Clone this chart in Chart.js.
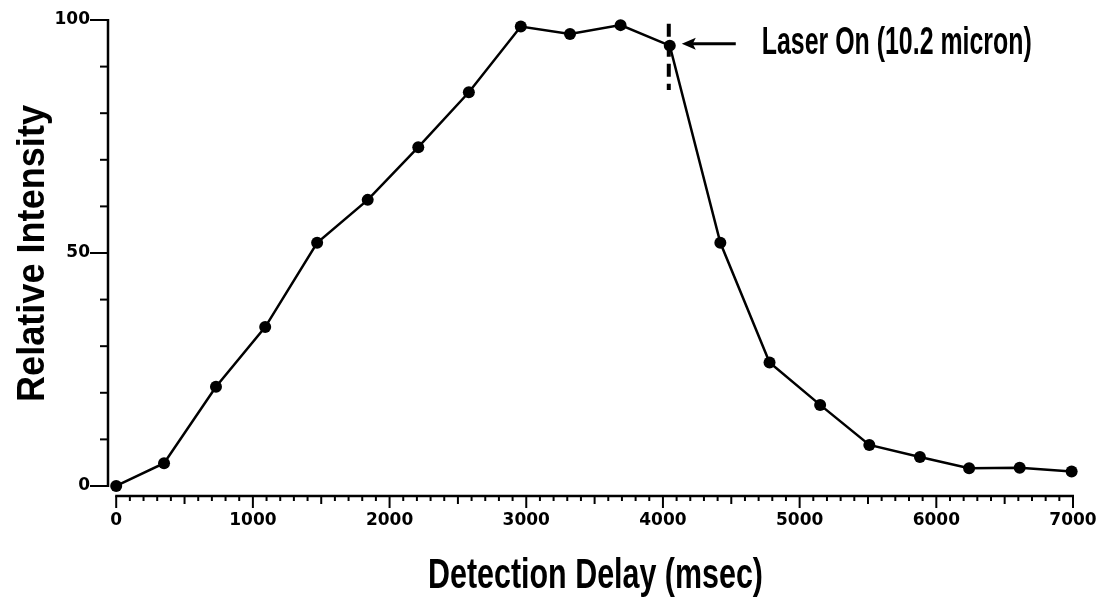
<!DOCTYPE html>
<html>
<head>
<meta charset="utf-8">
<script src="https://cdn.jsdelivr.net/npm/chart.js@4/dist/chart.umd.min.js"></script>
<style>
  html, body { margin: 0; padding: 0; background: #fff; }
  #plot { display: block; }
</style>
</head>
<body>
<canvas id="plot" width="1102" height="601"></canvas>
<script>
// delay (msec) and relative intensity for each measurement
const delays = [0, 350, 730, 1090, 1470, 1840, 2210, 2580, 2960, 3320,
                3690, 4050, 4420, 4780, 5150, 5510, 5880, 6240, 6610, 6990]
const intensity = [0, 4.9, 21.3, 34.1, 52.2, 61.4, 72.7, 84.5, 98.6, 97.0,
                   98.9, 94.5, 52.2, 26.5, 17.4, 8.8, 6.2, 3.8, 3.9, 3.1]

const xTicks = [0, 1000, 2000, 3000, 4000, 5000, 6000, 7000]
const yTicks = [0, 50, 100]

// index of the point where the laser is switched on
const laserIdx = 11
const laserText = 'Laser On (10.2 micron)'
const xTitle = 'Detection Delay (msec)'
const yTitle = 'Relative Intensity'

const points = delays.map((d, i) => ({ x: d, y: intensity[i] }))

// draw text squeezed/stretched to a given width
const fitText = (ctx, text, x, y, width, font) => {
    ctx.save()
    ctx.font = font
    const w = ctx.measureText(text).width
    ctx.translate(x, y)
    ctx.scale(width / w, 1)
    ctx.fillText(text, 0, 0)
    ctx.restore()
}

const axesPlugin = {
    id: 'axesPlugin',
    afterDraw(chart) {
        const ctx = chart.ctx
        const xs = chart.scales.x
        const ys = chart.scales.y
        const left = chart.chartArea.left
        const bottom = chart.chartArea.bottom

        ctx.save()
        ctx.strokeStyle = '#000'
        ctx.fillStyle = '#000'
        ctx.lineCap = 'butt'

        // y axis line and ticks
        ctx.lineWidth = 2.5
        ctx.beginPath()
        ctx.moveTo(left, ys.getPixelForValue(100) - 1)
        ctx.lineTo(left, ys.getPixelForValue(0) + 1)
        ctx.stroke()
        ctx.lineWidth = 2
        for (let v = 0; v <= 100; v += 10) {
            const len = v % 50 === 0 ? 18 : 8
            const y = ys.getPixelForValue(v)
            ctx.beginPath()
            ctx.moveTo(left, y)
            ctx.lineTo(left - len, y)
            ctx.stroke()
        }

        // x axis line and ticks
        ctx.lineWidth = 2.5
        ctx.beginPath()
        ctx.moveTo(xs.getPixelForValue(0) - 1, bottom)
        ctx.lineTo(xs.getPixelForValue(7000) + 1, bottom)
        ctx.stroke()
        ctx.lineWidth = 2
        for (let v = 0; v <= 7000; v += 100) {
            let len = 5
            if (v % 1000 === 0) len = 12
            else if (v % 500 === 0) len = 8
            const x = xs.getPixelForValue(v)
            ctx.beginPath()
            ctx.moveTo(x, bottom)
            ctx.lineTo(x, bottom + len)
            ctx.stroke()
        }

        // laser marker: dashed vertical line through the point + arrow + label
        const lx = xs.getPixelForValue(delays[laserIdx])
        const ly = ys.getPixelForValue(intensity[laserIdx])
        ctx.lineWidth = 4
        ctx.setLineDash([13, 7])
        ctx.beginPath()
        ctx.moveTo(lx - 1, ys.getPixelForValue(99.2))
        ctx.lineTo(lx - 1, ys.getPixelForValue(85))
        ctx.stroke()
        ctx.setLineDash([])

        const ay = ly - 2
        ctx.lineWidth = 3
        ctx.beginPath()
        ctx.moveTo(lx + 22, ay)
        ctx.lineTo(lx + 66, ay)
        ctx.stroke()
        ctx.beginPath()
        ctx.moveTo(lx + 12, ay)
        ctx.lineTo(lx + 26, ay - 6)
        ctx.lineTo(lx + 23, ay)
        ctx.lineTo(lx + 26, ay + 6)
        ctx.closePath()
        ctx.fill()

        ctx.textBaseline = 'alphabetic'
        ctx.textAlign = 'left'
        fitText(ctx, laserText, lx + 92, ay + 10, 270, 'bold 38px "Liberation Sans Narrow", "Liberation Sans", sans-serif')

        // axis titles
        fitText(ctx, xTitle, 428, 588, 335, 'bold 42px "Liberation Sans Narrow", "Liberation Sans", sans-serif')

        ctx.save()
        ctx.translate(44, 402)
        ctx.rotate(-Math.PI / 2)
        fitText(ctx, yTitle, 0, 0, 297, 'bold 38px "Liberation Sans", Arial, sans-serif')
        ctx.restore()

        ctx.restore()
    }
}

const chart = new Chart(document.querySelector('#plot'), {
    type: 'line',
    data: {
        datasets: [{
            data: points,
            borderColor: '#000',
            borderWidth: 2.5,
            backgroundColor: '#000',
            pointBackgroundColor: '#000',
            pointBorderWidth: 0,
            pointRadius: 6,
            tension: 0,
            clip: false
        }]
    },
    options: {
        responsive: false,
        animation: false,
        layout: { padding: { top: 20, right: 29, left: 0, bottom: 0 } },
        plugins: {
            legend: { display: false },
            tooltip: { enabled: false }
        },
        scales: {
            x: {
                type: 'linear',
                min: -60,
                max: 7000,
                grid: { display: false, drawTicks: false },
                border: { display: false },
                afterBuildTicks: axis => { axis.ticks = xTicks.map(v => ({ value: v })) },
                afterFit: scale => {
                    scale.height = 105
                    scale.paddingLeft = 0
                    scale.paddingRight = 0
                },
                ticks: {
                    color: '#000',
                    font: { family: "'DejaVu Sans'", weight: 'bold', size: 17 },
                    padding: 14,
                    maxRotation: 0,
                    autoSkip: false,
                    callback: v => String(v)
                }
            },
            y: {
                type: 'linear',
                min: -2.15,
                max: 100,
                grid: { display: false, drawTicks: false },
                border: { display: false },
                afterBuildTicks: axis => { axis.ticks = yTicks.map(v => ({ value: v })) },
                afterFit: scale => {
                    scale.width = 108
                    scale.paddingTop = 0
                    scale.paddingBottom = 0
                },
                ticks: {
                    color: '#000',
                    font: { family: "'DejaVu Sans'", weight: 'bold', size: 17 },
                    padding: 18,
                    autoSkip: false,
                    callback: v => String(v)
                }
            }
        }
    },
    plugins: [axesPlugin]
})
</script>
</body>
</html>
